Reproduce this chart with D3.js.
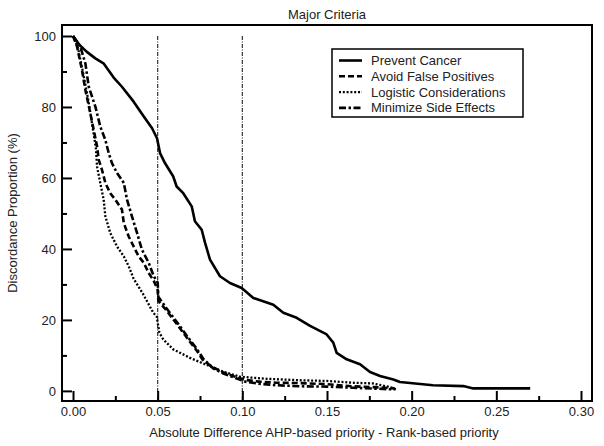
<!DOCTYPE html>
<html>
<head>
<meta charset="utf-8">
<script src="https://cdn.jsdelivr.net/npm/d3@7"></script>
<style>
  body { margin: 0; background: #fff; }
  text { font-family: "Liberation Sans", Arial, sans-serif; fill: #222; }
</style>
</head>
<body>
<div class="chartDiv"></div>
<script>
//data
var seriesNames = ["Prevent Cancer", "Avoid False Positives", "Logistic Considerations", "Minimize Side Effects"];
var preventCancer = [[0,100],[0.004,97.4],[0.008,95.6],[0.0132,93.7],[0.018,92.3],[0.024,88.3],[0.0289,85.7],[0.0358,81.5],[0.0418,77.3],[0.0467,74.0],[0.0496,71.2],[0.0514,67.0],[0.0543,64.2],[0.0592,60.4],[0.0612,57.6],[0.0651,55.7],[0.0701,52.0],[0.072,47.8],[0.076,45.4],[0.078,41.7],[0.0809,37.0],[0.0868,32.3],[0.0927,30.4],[0.0996,29.0],[0.1065,26.2],[0.1183,24.3],[0.1242,22.0],[0.1321,20.6],[0.14,18.3],[0.1498,15.9],[0.1537,13.6],[0.1557,10.7],[0.1616,8.9],[0.1695,7.5],[0.1754,5.3],[0.1813,4.2],[0.1892,3.2],[0.1931,2.5],[0.2126,1.6],[0.2305,1.35],[0.2364,0.7],[0.27,0.7]];
var avoidFalse = [[0,100],[0.0024,97],[0.0053,90.4],[0.0073,84.8],[0.0102,78.3],[0.0122,73.6],[0.0142,68.9],[0.0152,65.1],[0.0171,62.3],[0.0191,58.6],[0.022,55.7],[0.025,53.9],[0.0289,51.1],[0.030,47.3],[0.0329,43.5],[0.0358,40.7],[0.0388,37.9],[0.0418,36.1],[0.0447,33.2],[0.0477,31.0],[0.05,28.5],[0.0504,25.4],[0.0553,22.6],[0.0612,18.9],[0.0671,15.1],[0.073,11.4],[0.077,8.5],[0.0829,6.6],[0.0888,5.2],[0.0967,3.8],[0.1016,3.1],[0.11,2.6],[0.12,2.3],[0.134,2.2],[0.15,1.9],[0.165,1.3],[0.18,1.0],[0.19,0.7]];
var logistic = [[0,100],[0.003,96.5],[0.006,89.5],[0.009,82],[0.0115,74.5],[0.0135,68.5],[0.0142,63.2],[0.0161,58.6],[0.0181,53.9],[0.0191,49.2],[0.022,44.5],[0.026,40.7],[0.030,37.9],[0.0329,35.1],[0.0358,31.6],[0.0415,27.2],[0.0474,22.0],[0.0494,21.0],[0.051,16.4],[0.0533,14.5],[0.0592,11.7],[0.0691,9.3],[0.079,7.3],[0.0888,5.4],[0.0986,4.0],[0.1144,3.4],[0.134,3.0],[0.15,2.8],[0.165,2.3],[0.177,2.1],[0.186,1.2],[0.191,0.4]];
var sideEffects = [[0,100],[0.0043,97],[0.0073,92.3],[0.0093,85.7],[0.0132,80.1],[0.0161,74.5],[0.0191,70.7],[0.0211,67.0],[0.023,64.2],[0.026,61.4],[0.030,58.6],[0.0319,53.9],[0.0348,49.2],[0.0378,44.5],[0.0407,39.8],[0.0447,36.1],[0.0477,32.3],[0.05,30.5],[0.0504,26.5],[0.0553,23.2],[0.0612,19.5],[0.0671,15.6],[0.073,11.9],[0.077,9.0],[0.0829,6.3],[0.0888,4.9],[0.0967,3.5],[0.1016,2.6],[0.11,2.0],[0.12,1.6],[0.134,1.3],[0.15,1.2],[0.165,0.9],[0.18,0.6],[0.19,0.4]];
var xMajorTicks = [0, 0.05, 0.10, 0.15, 0.20, 0.25, 0.30];
var xMinorTicks = [0.025, 0.075, 0.125, 0.175, 0.225, 0.275];
var yMajorTicks = [0, 20, 40, 60, 80, 100];
var yMinorTicks = [10, 30, 50, 70, 90];
var refLines = [0.05, 0.10];

(function(){
  var width  = 604,
      height = 446,
      margin = {top: 25, right: 12, bottom: 45, left: 62},
      fontSize = "13px";
  var w = width - margin.left - margin.right,
      h = height - margin.top - margin.bottom;

  var svg = d3.select(".chartDiv").append("svg")
              .attr("width", width).attr("height", height);
  var g = svg.append("g").attr("transform", "translate(" + margin.left + "," + margin.top + ")");

  var x = d3.scaleLinear().domain([-0.0065, 0.3065]).range([0, w]);
  var y = d3.scaleLinear().domain([-2.85, 103.1]).range([h, 0]);

  //dash-dot reference lines
  refLines.forEach(function(v){
    g.append("line").attr("x1", x(v)).attr("x2", x(v)).attr("y1", y(100)).attr("y2", h)
     .attr("stroke", "#333").attr("stroke-width", 1.2).attr("stroke-dasharray", "4,1.5,1,1.5");
  });

  //ticks pointing inside
  g.append("g").attr("transform", "translate(0," + h + ")")
   .call(d3.axisBottom(x).tickValues(xMajorTicks).tickSize(-10).tickPadding(6).tickFormat(d3.format(".2f")));
  g.append("g").attr("transform", "translate(0," + h + ")")
   .call(d3.axisBottom(x).tickValues(xMinorTicks).tickSize(-5).tickFormat(""));
  g.append("g")
   .call(d3.axisLeft(y).tickValues(yMajorTicks).tickSize(-10).tickPadding(6));
  g.append("g").call(d3.axisLeft(y).tickValues(yMinorTicks).tickSize(-5).tickFormat(""));

  g.selectAll(".domain").remove();
  g.selectAll(".tick line").attr("stroke", "#000").attr("stroke-width", 2);
  g.selectAll(".tick text").style("font-size", fontSize).attr("fill", "#222");

  //frame
  g.append("rect").attr("x", 0).attr("y", 0).attr("width", w).attr("height", h)
   .attr("fill", "none").attr("stroke", "#000").attr("stroke-width", 2);

  //series
  var styles = [
    {data: preventCancer, dash: null,            width: 2.6},
    {data: avoidFalse,    dash: "6,3",           width: 2.6},
    {data: logistic,      dash: "2,1.8",         width: 2.3},
    {data: sideEffects,   dash: "7,2.5,2.5,2.5", width: 2.6}
  ];
  var line = d3.line().x(function(d){ return x(d[0]); }).y(function(d){ return y(d[1]); });
  styles.slice().reverse().forEach(function(s){
    g.append("path").datum(s.data).attr("d", line)
     .attr("fill", "none").attr("stroke", "#000").attr("stroke-width", s.width)
     .attr("stroke-linejoin", "round")
     .attr("stroke-dasharray", s.dash);
  });

  //legend
  var lg = svg.append("g").attr("transform", "translate(332,49)");
  lg.append("rect").attr("width", 191).attr("height", 68)
    .attr("fill", "#fff").attr("stroke", "#000").attr("stroke-width", 1.5);
  styles.forEach(function(s, i){
    var ly = 11.5 + i * 15.8;
    lg.append("line").attr("x1", 7).attr("x2", 30).attr("y1", ly).attr("y2", ly)
      .attr("stroke", "#000").attr("stroke-width", s.width).attr("stroke-dasharray", s.dash);
    lg.append("text").attr("x", 39).attr("y", ly).attr("dy", "0.35em")
      .style("font-size", fontSize).text(seriesNames[i]);
  });

  //titles
  svg.append("text").attr("x", 327).attr("y", 19).attr("text-anchor", "middle")
     .style("font-size", fontSize).text("Major Criteria");
  svg.append("text").attr("x", 324).attr("y", 437).attr("text-anchor", "middle")
     .style("font-size", fontSize).text("Absolute Difference AHP-based priority - Rank-based priority");
  svg.append("text").attr("transform", "translate(17,213) rotate(-90)").attr("text-anchor", "middle")
     .style("font-size", fontSize).text("Discordance Proportion (%)");
})()
</script>
</body>
</html>
